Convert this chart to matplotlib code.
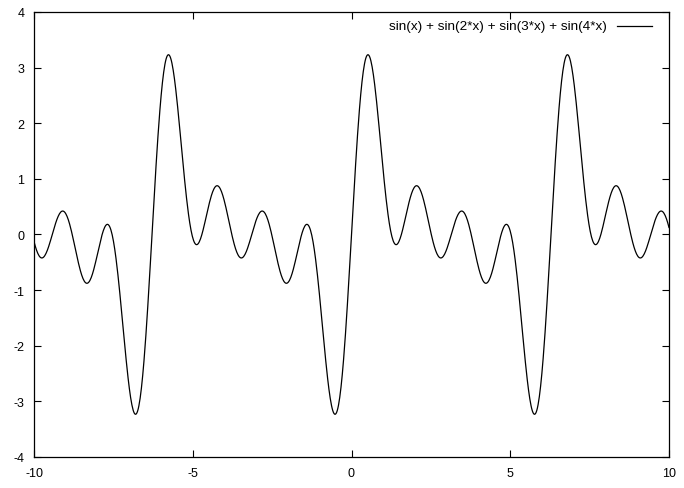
import numpy as np
import matplotlib
matplotlib.use("Agg")
import matplotlib.pyplot as plt

# curve from the legend expression
X_RANGE = (-10, 10)
Y_RANGE = (-4, 4)
N_SAMPLES = 1000
FREQS = [1, 2, 3, 4]
LABEL = "sin(x) + sin(2*x) + sin(3*x) + sin(4*x)"
XTICKS = [-10, -5, 0, 5, 10]
YTICKS = [-4, -3, -2, -1, 0, 1, 2, 3, 4]

x = np.linspace(X_RANGE[0], X_RANGE[1], N_SAMPLES)
y = sum(np.sin(f * x) for f in FREQS)

plt.rcParams["font.family"] = ["Liberation Sans", "DejaVu Sans"]
plt.rcParams["axes.unicode_minus"] = False
fig = plt.figure(figsize=(6.84, 4.89), dpi=100)
ax = fig.add_axes([34 / 684, 1 - 458 / 489, 635 / 684, 445 / 489])

ax.plot(x, y, color="black", lw=0.9)
ax.set_xlim(*X_RANGE)
ax.set_ylim(*Y_RANGE)
ax.set_xticks(XTICKS)
ax.set_yticks(YTICKS)
ax.tick_params(direction="in", length=5, width=0.8, top=True, right=True,
               labelsize=9, pad=7)
for s in ax.spines.values():
    s.set_linewidth(0.9)

ly = 1 - 27 / 489
fig.add_artist(plt.Line2D([617 / 684, 652 / 684], [ly, ly], color="black",
                          lw=0.9, transform=fig.transFigure))
fig.text(607 / 684, ly, LABEL, ha="right", va="center", fontsize=9.7)
fig.savefig("out.png", dpi=100)
